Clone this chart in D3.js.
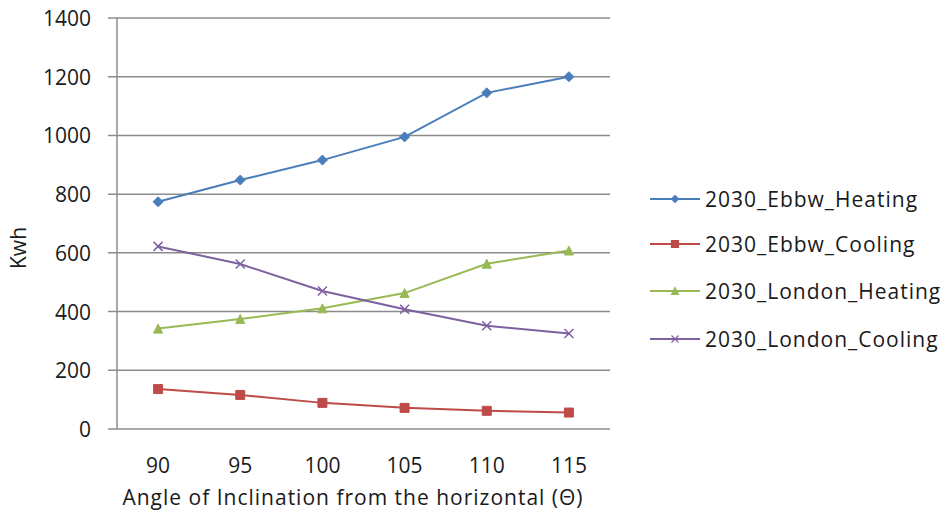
<html>
<head>
    <meta charset="UTF-8" />
    <script src="https://d3js.org/d3.v7.min.js"></script>
    <style>
        body { margin: 0; background: white; }
        text { font-family: "Open Sans", sans-serif; fill: #1a1a1a; }
        .grid line { stroke: #8c8c8c; stroke-width: 1.5px; }
    </style>
</head>
<body>
    <svg id="chart" width="950" height="516"></svg>
    <script>
        // data
        const angles = ["90", "95", "100", "105", "110", "115"];
        const seriesNames = ["2030_Ebbw_Heating", "2030_Ebbw_Cooling", "2030_London_Heating", "2030_London_Cooling"];
        const ebbwHeating = [774, 848, 916, 995, 1145, 1200];
        const ebbwCooling = [136, 116, 89, 72, 62, 56];
        const londonHeating = [342, 375, 411, 463, 563, 608];
        const londonCooling = [622, 562, 470, 408, 352, 325];
        const yTicks = [0, 200, 400, 600, 800, 1000, 1200, 1400];

        const seriesValues = [ebbwHeating, ebbwCooling, londonHeating, londonCooling];
        const colors = ["#4a7ebb", "#be4b48", "#98b954", "#7d60a0"];

        const svg = d3.select("#chart");
        const plot = { left: 117, right: 610, top: 18, bottom: 429 };

        const x = d3.scaleBand().domain(angles).range([plot.left, plot.right]);
        const y = d3.scaleLinear().domain([0, 1400]).range([plot.bottom, plot.top]);

        // horizontal gridlines
        svg.append("g").attr("class", "grid")
            .selectAll("line").data(yTicks)
            .join("line")
            .attr("x1", plot.left - 9)
            .attr("x2", plot.right)
            .attr("y1", d => y(d))
            .attr("y2", d => y(d));

        // y axis line
        svg.append("line")
            .attr("x1", plot.left).attr("x2", plot.left)
            .attr("y1", plot.top).attr("y2", plot.bottom)
            .style("stroke", "#8c8c8c").style("stroke-width", "1.5px");

        svg.append("g").selectAll("text").data(yTicks)
            .join("text")
            .attr("x", 91)
            .attr("y", d => y(d) + 8)
            .attr("text-anchor", "end")
            .style("font-size", "21px")
            .text(d => d);

        svg.append("g").selectAll("text").data(angles)
            .join("text")
            .attr("x", d => x(d) + x.bandwidth() / 2)
            .attr("y", 473)
            .attr("text-anchor", "middle")
            .style("font-size", "21px")
            .text(d => d);

        svg.append("text")
            .attr("transform", "translate(26,248) rotate(-90)")
            .attr("text-anchor", "middle")
            .style("font-size", "21px")
            .text("Kwh");

        svg.append("text")
            .attr("x", 353)
            .attr("y", 505)
            .attr("text-anchor", "middle")
            .style("font-size", "21px")
            .style("letter-spacing", "1px")
            .text("Angle of Inclination from the horizontal (\u0398)");

        const line = d3.line()
            .x((d, i) => x(angles[i]) + x.bandwidth() / 2)
            .y(d => y(d));

        // marker shapes, s = half size
        const markerPath = (i, s) => {
            if (i === 0) return "M0," + (-s) + "L" + s + ",0L0," + s + "L" + (-s) + ",0Z";
            if (i === 1) return "M" + (-s) + "," + (-s) + "H" + s + "V" + s + "H" + (-s) + "Z";
            if (i === 2) return "M0," + (-s) + "L" + s + "," + s + "L" + (-s) + "," + s + "Z";
            return "M" + (-s) + "," + (-s) + "L" + s + "," + s + "M" + (-s) + "," + s + "L" + s + "," + (-s);
        };

        seriesValues.forEach((vals, i) => {
            svg.append("path").datum(vals)
                .attr("d", line)
                .style("fill", "none")
                .style("stroke", colors[i])
                .style("stroke-width", "2px");

            svg.append("g").selectAll("path").data(vals)
                .join("path")
                .attr("transform", (d, j) => "translate(" + (x(angles[j]) + x.bandwidth() / 2) + "," + y(d) + ")")
                .attr("d", markerPath(i, i === 0 ? 5 : 4.5))
                .style("fill", i === 3 ? "none" : colors[i])
                .style("stroke", colors[i])
                .style("stroke-width", i === 3 ? "1.5px" : "1px");
        });

        // legend
        const legend = svg.append("g");
        const legendY = [199, 244, 291, 339];
        seriesNames.forEach((name, i) => {
            const g = legend.append("g").attr("transform", "translate(650," + legendY[i] + ")");
            g.append("line")
                .attr("x1", 0).attr("x2", 50)
                .style("stroke", colors[i]).style("stroke-width", "2px");
            g.append("path")
                .attr("transform", "translate(25,0)")
                .attr("d", markerPath(i, 3.5))
                .style("fill", i === 3 ? "none" : colors[i])
                .style("stroke", colors[i])
                .style("stroke-width", "1.2px");
            g.append("text")
                .attr("x", 55)
                .attr("y", 8)
                .style("font-size", "21px")
                .style("letter-spacing", "1px")
                .text(name);
        });
    </script>
</body>
</html>
